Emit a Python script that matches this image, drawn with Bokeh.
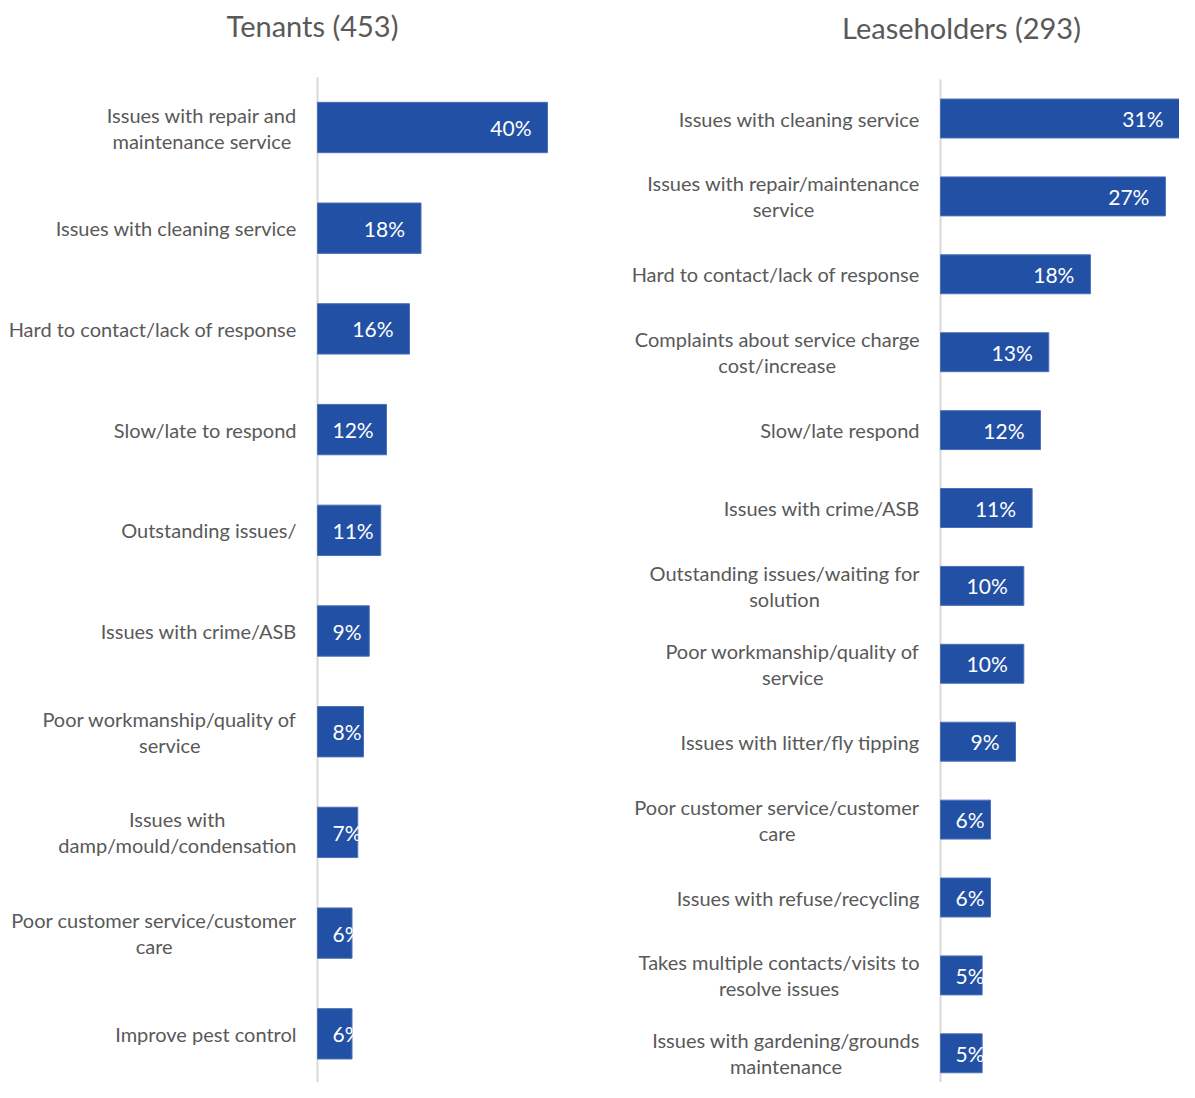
import os, glob, subprocess
from bokeh.plotting import figure
from bokeh.layouts import row
from bokeh.models import Range1d, ColumnDataSource
from bokeh.core.properties import value
from bokeh.embed import file_html
from bokeh.resources import INLINE

# ---------------- data ----------------
tenant_title = "Tenants (453)"
tenant_cats = [
    "Issues with repair and\nmaintenance service",
    "Issues with cleaning service",
    "Hard to contact/lack of response",
    "Slow/late to respond",
    "Outstanding issues/",
    "Issues with crime/ASB",
    "Poor workmanship/quality of\nservice",
    "Issues with\ndamp/mould/condensation",
    "Poor customer service/customer\ncare",
    "Improve pest control",
]
tenant_vals = [40, 18, 16, 12, 11, 9, 8, 7, 6, 6]

lease_title = "Leaseholders (293)"
lease_cats = [
    "Issues with cleaning service",
    "Issues with repair/maintenance\nservice",
    "Hard to contact/lack of response",
    "Complaints about service charge\ncost/increase",
    "Slow/late respond",
    "Issues with crime/ASB",
    "Outstanding issues/waiting for\nsolution",
    "Poor workmanship/quality of\nservice",
    "Issues with litter/fly tipping",
    "Poor customer service/customer\ncare",
    "Issues with refuse/recycling",
    "Takes multiple contacts/visits to\nresolve issues",
    "Issues with gardening/grounds\nmaintenance",
]
lease_vals = [31, 27, 18, 13, 12, 11, 10, 10, 9, 6, 6, 5, 5]

# ---------------- styling ----------------
FONT = "Lato"
BAR_COLOR = "#2250A4"
BAR_EDGE = "#4B70B8"
TEXT_COLOR = "#595959"
AXIS_COLOR = "#D9D9D9"


def _find_font():
    try:
        out = subprocess.run(["fc-match", "-f", "%{file}", "Lato:style=Regular"],
                             capture_output=True, text=True, timeout=5).stdout.strip()
        if out and os.path.exists(out) and "Lato" in out:
            return out
    except Exception:
        pass
    for pat in ["/usr/share/fonts/**/Lato-Regular.ttf", "/usr/local/share/fonts/**/Lato-Regular.ttf",
                "/usr/share/fonts/**/Lato-Reg*.ttf"]:
        g = glob.glob(pat, recursive=True)
        if g:
            return g[0]
    return None


_font_path = _find_font()
_pil_font = None
try:
    from PIL import ImageFont
    if _font_path:
        _pil_font = ImageFont.truetype(_font_path, 100)
except Exception:
    _pil_font = None


def text_width(s, size):
    if _pil_font is not None:
        return _pil_font.getlength(s) * size / 100.0
    return len(s) * 0.5 * size


def fit_size(sample, target, default):
    if _pil_font is None:
        return default
    return round(target / text_width(sample, 1.0) * 2) / 2


LABEL_PX = fit_size("Issues with cleaning service", 238, 18)
TITLE_PX = fit_size("Tenants (453)", 173, 28)
VALUE_PX = fit_size("40%", 41, 19)
LINE_GAP = 26


def panel(title, cats, vals, W, H, axis_px, scale, c0, step, title_x, title_y):
    n = len(cats)
    x_range = Range1d(-axis_px / scale, (W - axis_px) / scale)
    y_range = Range1d((H - c0) / step, (0 - c0) / step)
    p = figure(width=W, height=H, x_range=x_range, y_range=y_range,
               output_backend="svg", toolbar_location=None,
               x_axis_location=None, y_axis_location=None,
               min_border=0, outline_line_color=None,
               background_fill_color="white", border_fill_color="white")
    p.grid.visible = False

    idx = list(range(n))
    # axis line
    p.segment(x0=[0], y0=[-0.5], x1=[0], y1=[n - 0.5], line_color=AXIS_COLOR, line_width=2)
    # bars
    src = ColumnDataSource(dict(y=idx, right=vals))
    p.hbar(y="y", left=0, right="right", height=0.5, source=src,
           fill_color=BAR_COLOR, line_color=BAR_EDGE, line_width=1)

    # value labels (white, inside bar end; kept inside the frame)
    frame_right_px = W - axis_px
    vx, vy, vt = [], [], []
    for i, v in enumerate(vals):
        t = f"{v}%"
        w = text_width(t, VALUE_PX)
        right_px = min(v * scale, frame_right_px) - 16
        left_px = right_px - w
        if left_px < 15:
            left_px = 15
        vx.append(left_px / scale)
        vy.append(i)
        vt.append(t)
    p.text(x=vx, y=vy, text=vt, text_color="white", text_align="left",
           text_baseline="middle", text_font=value(FONT), text_font_size=value(f"{VALUE_PX}px"))

    # category labels (block right-aligned, lines centered)
    lx, ly, lt, lo = [], [], [], []
    for i, c in enumerate(cats):
        lines = c.split("\n")
        bw = max(text_width(l, LABEL_PX) for l in lines)
        cx = -(21 + bw / 2) / scale
        nl = len(lines)
        for k, l in enumerate(lines):
            lx.append(cx)
            ly.append(i)
            lt.append(l)
            lo.append((k - (nl - 1) / 2) * LINE_GAP)
    p.text(x=lx, y=ly, text=lt, y_offset=lo, text_color=TEXT_COLOR, text_align="center",
           text_baseline="middle", text_font=value(FONT), text_font_size=value(f"{LABEL_PX}px"))

    # title
    p.text(x=[(title_x - axis_px) / scale], y=[(title_y - c0) / step], text=[title],
           text_color=TEXT_COLOR, text_align="center", text_baseline="middle",
           text_font=value(FONT), text_font_size=value(f"{TITLE_PX}px"))
    return p


H = 1082
W1 = 619
p1 = panel(tenant_title, tenant_cats, tenant_vals, W=W1, H=H, axis_px=317, scale=5.75,
           c0=127, step=100.7, title_x=312, title_y=25)
p2 = panel(lease_title, lease_cats, lease_vals, W=560, H=H, axis_px=940 - W1, scale=8.33,
           c0=118, step=77.9, title_x=961 - W1, title_y=27)

layout = row(p1, p2)
open("out.html", "w").write(file_html(layout, INLINE))
